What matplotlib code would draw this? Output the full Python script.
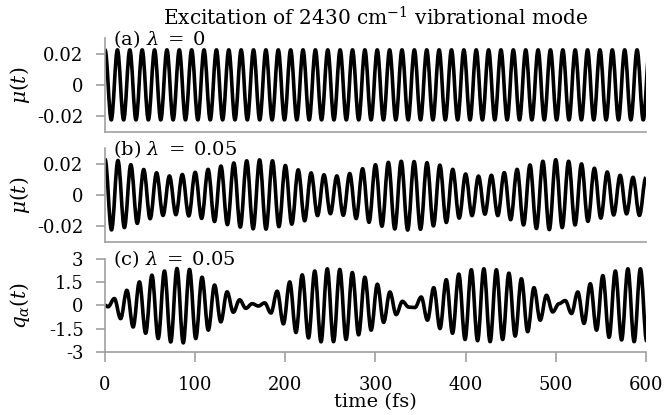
import numpy as np
import matplotlib
matplotlib.use('Agg')
import matplotlib.pyplot as plt
from matplotlib.path import Path
from matplotlib.patches import PathPatch

plt.rcParams['font.family'] = 'DejaVu Serif'
plt.rcParams['mathtext.fontset'] = 'dejavuserif'
plt.rcParams['axes.unicode_minus'] = False

period_a = 13.73
period_b = 14.29
period_c = 13.90
start_c = 3.35   # first extremum of q_alpha after t = 0

# (a) every peak / trough sits at +-0.0225
a_extrema = [0.0225, -0.0225] * 45

# (b) peaks and troughs of mu(t), read one by one
b_upper = [0.0230, 0.0222, 0.0195, 0.0164, 0.0143, 0.0123, 0.0132, 0.0146, 0.0165, 0.0186,
           0.0206, 0.0220, 0.0226, 0.0220, 0.0190, 0.0162, 0.0142, 0.0130, 0.0123, 0.0138,
           0.0169, 0.0195, 0.0210, 0.0217, 0.0215, 0.0208, 0.0192, 0.0165, 0.0135, 0.0122,
           0.0127, 0.0144, 0.0165, 0.0193, 0.0217, 0.0227, 0.0217, 0.0200, 0.0172, 0.0148,
           0.0127, 0.0114, 0.0112]
b_lower = [-0.0224, -0.0209, -0.0182, -0.0152, -0.0131, -0.0126, -0.0134, -0.0150, -0.0170, -0.0190,
           -0.0206, -0.0217, -0.0219, -0.0203, -0.0187, -0.0165, -0.0132, -0.0120, -0.0130, -0.0151,
           -0.0175, -0.0200, -0.0218, -0.0225, -0.0220, -0.0198, -0.0176, -0.0148, -0.0132, -0.0123,
           -0.0132, -0.0158, -0.0192, -0.0215, -0.0222, -0.0209, -0.0192, -0.0169, -0.0148, -0.0128,
           -0.0121, -0.0131]

# (c) extrema of q_alpha(t)
c_extrema = [-0.10, 0.43, -0.86, 0.96, -1.40, 1.50, -1.80, 1.93, -2.14, 2.20,
             -2.36, 2.36, -2.42, 2.30, -2.14, 1.80, -1.60, 1.30, -1.07, 0.86,
             -0.45, 0.35, -0.20, 0.10, -0.05, 0.15, -0.50, 0.90, -1.20, 1.50,
             -1.75, 1.95, -2.10, 2.20, -2.35, 2.34, -2.34, 2.30, -2.20, 2.10,
             -1.90, 1.80, -1.60, 1.35, -1.10, 0.85, -0.60, 0.25, -0.12, -0.15,
             0.53, -0.96, 1.13, -1.50, 1.64, -1.80, 2.00, -2.20, 2.28, -2.28,
             2.34, -2.34, 2.28, -2.20, 2.06, -1.98, 1.70, -1.70, 1.13, -0.96,
             0.64, -0.43, 0.10, 0.30, -0.53, 0.85, -1.17, 1.38, -1.60, 1.90,
             -2.06, 2.20, -2.23, 2.34, -2.34, 2.34, -2.30]

time_ticks = [0, 100, 200, 300, 400, 500, 600]
mu_ticks = [-0.02, 0, 0.02]
mu_ticklabels = ['-0.02', '0', '0.02']
q_ticks = [-3, -1.5, 0, 1.5, 3]
q_ticklabels = ['-3', '-1.5', '0', '1.5', '3']
panel_labels = [r'(a) $\lambda\;=\;0$', r'(b) $\lambda\;=\;0.05$', r'(c) $\lambda\;=\;0.05$']
ylabels = [r'$\mu(t)$', r'$\mu(t)$', r'$q_\alpha(t)$']


def wave_path(times, values, k=0.3634):
    # bezier half-waves between successive extrema (flat tangent at each extremum)
    verts = [(times[0], values[0])]
    codes = [Path.MOVETO]
    for t0, v0, t1, v1 in zip(times[:-1], values[:-1], times[1:], values[1:]):
        dt = t1 - t0
        verts += [(t0 + k * dt, v0), (t1 - k * dt, v1), (t1, v1)]
        codes += [Path.CURVE4] * 3
    return Path(verts, codes)


t_a = np.arange(len(a_extrema)) * period_a / 2
b_extrema = [v for pair in zip(b_upper, b_lower) for v in pair] + [b_upper[-1]]
t_b = np.arange(len(b_extrema)) * period_b / 2
t_c = np.concatenate([[0.0], start_c + np.arange(len(c_extrema)) * period_c / 2])
v_c = [0.0] + c_extrema

series = [(t_a, a_extrema), (t_b, b_extrema), (t_c, v_c)]

gray = '#a0a0a0'
fig = plt.figure(figsize=(6.65, 4.15), dpi=100)
gs = fig.add_gridspec(3, 1, left=0.158, right=0.971, top=0.908, bottom=0.152, hspace=0.18)

for i, (t, v) in enumerate(series):
    ax = fig.add_subplot(gs[i])
    ax.add_patch(PathPatch(wave_path(t, v), fill=False, ec='black', lw=2.6,
                           joinstyle='round', capstyle='butt'))
    ax.set_xlim(0, 600)
    for s in ['top', 'right']:
        ax.spines[s].set_visible(False)
    for s in ['left', 'bottom']:
        ax.spines[s].set_color(gray)
        ax.spines[s].set_linewidth(1.2)
    if i < 2:
        ax.set_ylim(-0.03, 0.03)
        ax.set_yticks(mu_ticks)
        ax.set_yticklabels(mu_ticklabels)
        ax.tick_params(axis='x', bottom=False, labelbottom=False)
    else:
        ax.set_ylim(-3, 3)
        ax.set_yticks(q_ticks)
        ax.set_yticklabels(q_ticklabels)
        ax.set_xticks(time_ticks)
        ax.tick_params(axis='x', length=7, width=1.2, color=gray, pad=10, labelsize=13)
        ax.set_xlabel('time (fs)', fontsize=14, labelpad=0)
    ax.tick_params(axis='y', length=6.5, width=1.2, color=gray, pad=9, labelsize=13)
    ax.set_ylabel(ylabels[i], fontsize=14.5)
    ax.yaxis.set_label_coords(-0.135, 0.5)
    ax.text(0.015, 0.995, panel_labels[i], transform=ax.transAxes, fontsize=14,
            ha='left', va='center')

fig.text(0.5645, 0.957, r'Excitation of 2430 cm$^{-1}$ vibrational mode',
         ha='center', va='center', fontsize=14.5)

fig.savefig('out.png', dpi=100)
